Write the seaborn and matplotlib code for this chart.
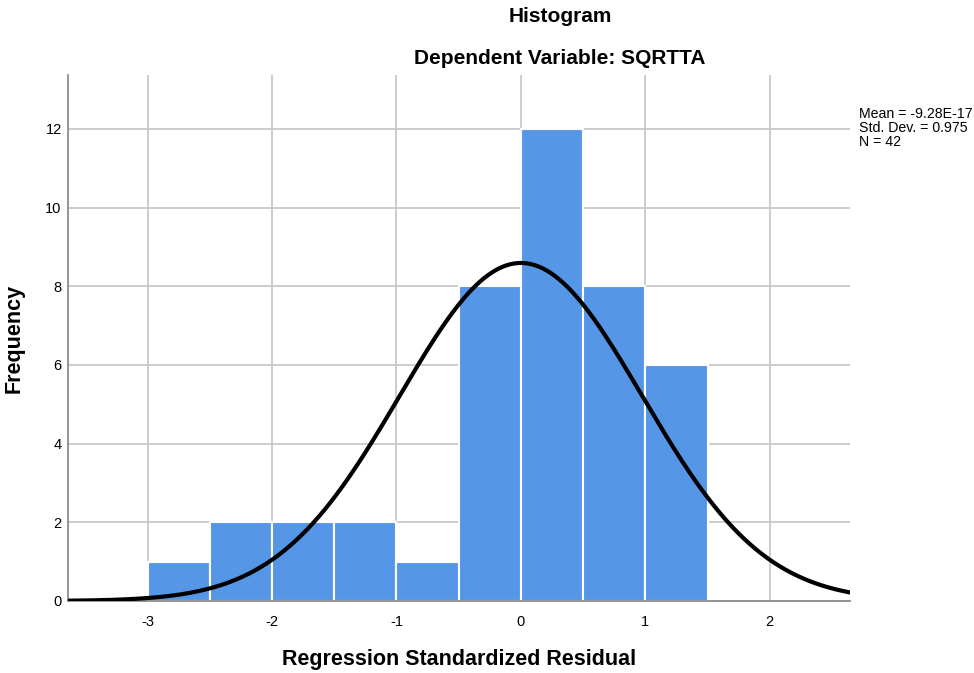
import matplotlib
matplotlib.use("Agg")
import matplotlib.pyplot as plt
import seaborn as sns
import numpy as np

# histogram data (bin edges of width 0.5, counts)
bin_edges = [-3.0, -2.5, -2.0, -1.5, -1.0, -0.5, 0.0, 0.5, 1.0, 1.5]
counts = [1, 2, 2, 2, 1, 8, 12, 8, 6]
mean_val = -9.28e-17
std_val = 0.975
n_obs = 42
x_ticks = [-3, -2, -1, 0, 1, 2]
y_ticks = [0, 2, 4, 6, 8, 10, 12]

sns.set_style("white")
plt.rcParams['font.family'] = ['Liberation Sans', 'DejaVu Sans']
plt.rcParams['text.color'] = 'black'

fig = plt.figure(figsize=(9.74, 6.73), dpi=100)
ax = fig.add_axes([68 / 974, 72 / 673, (850 - 68) / 974, (601 - 75) / 673])

centers = [(a + b) / 2 for a, b in zip(bin_edges[:-1], bin_edges[1:])]
sns.histplot(x=centers, weights=counts, bins=bin_edges, ax=ax,
             color='#5596e6', alpha=1, edgecolor='white', linewidth=1.5, zorder=2)

# normal curve scaled to counts
bw = bin_edges[1] - bin_edges[0]
xs = np.linspace(-3.64, 2.65, 400)
ys = n_obs * bw / (std_val * np.sqrt(2 * np.pi)) * np.exp(-0.5 * ((xs - mean_val) / std_val) ** 2)
ax.plot(xs, ys, color='black', linewidth=3.0, zorder=3)

ax.set_xlim(-3.64, 2.645)
ax.set_ylim(0, 13.37)
ax.set_xticks(x_ticks)
ax.set_yticks(y_ticks)
ax.set_xticklabels([str(t) for t in x_ticks], fontsize=10.5, color='black')
ax.set_yticklabels([str(t) for t in y_ticks], fontsize=10.5, color='black')
ax.grid(True, color='#c8c8c8', linewidth=1.3, zorder=0)
ax.set_axisbelow(True)
for s in ['top', 'right']:
    ax.spines[s].set_visible(False)
for s in ['left', 'bottom']:
    ax.spines[s].set_color('#8c8c8c')
    ax.spines[s].set_linewidth(1.3)
ax.tick_params(axis='x', length=0, pad=10)
ax.tick_params(axis='y', length=0, pad=4.5)

ax.set_xlabel('')
ax.set_ylabel('')
fig.text(459 / 974, 1 - 660 / 673, 'Regression Standardized Residual', fontsize=15.5,
         fontweight='bold', ha='center', va='center')
fig.text(14 / 974, 1 - 338 / 673, 'Frequency', fontsize=15.5, fontweight='bold',
         rotation=90, ha='center', va='center')

fig.text(560 / 974, 1 - 17 / 673, 'Histogram', fontsize=15, fontweight='bold', ha='center', va='center')
fig.text(560 / 974, 1 - 59 / 673, 'Dependent Variable: SQRTTA', fontsize=15, fontweight='bold',
         ha='center', va='center')

stats = 'Mean = %s\nStd. Dev. = %s\nN = %d' % ('-9.28E-17', '0.975', n_obs)
fig.text(859 / 974, 1 - 107 / 673, stats, fontsize=10.2, ha='left', va='top', linespacing=0.98)

fig.savefig('out.png', dpi=100)
